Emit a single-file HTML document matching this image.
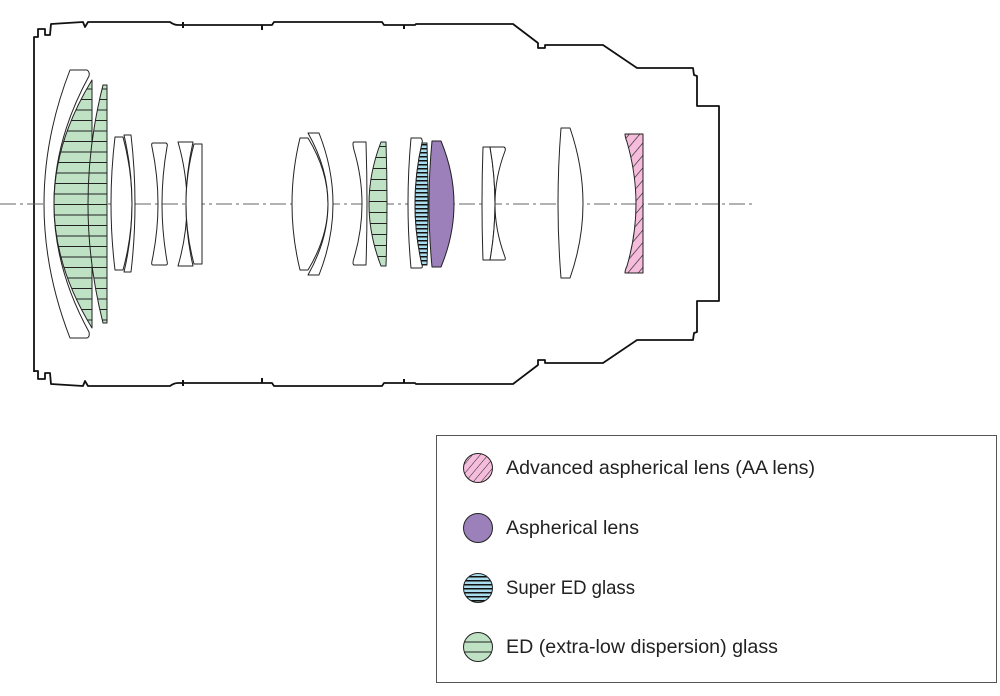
<!DOCTYPE html>
<html><head><meta charset="utf-8"><style>
html,body{margin:0;padding:0;background:#fff;}
svg{display:block}
text{font-family:"Liberation Sans",sans-serif;fill:#222}
</style></head><body>
<svg width="1000" height="696" viewBox="0 0 1000 696" xmlns="http://www.w3.org/2000/svg">
<defs>
<pattern id="gr" patternUnits="userSpaceOnUse" width="20" height="10.5" y="204"><rect width="20" height="10.5" fill="#bfe2c4"/><line x1="0" y1="0.5" x2="20" y2="0.5" stroke="#222" stroke-width="1"/></pattern>
<pattern id="bl" patternUnits="userSpaceOnUse" width="20" height="4"><rect width="20" height="4" fill="#a9dcec"/><line x1="0" y1="0.7" x2="20" y2="0.7" stroke="#111" stroke-width="1.5"/></pattern>
<pattern id="pk" patternUnits="userSpaceOnUse" width="8" height="8" patternTransform="rotate(40)"><rect width="8" height="8" fill="#f6bcdc"/><line x1="0" y1="0" x2="0" y2="8" stroke="#222" stroke-width="1.3"/></pattern>
<pattern id="pk2" patternUnits="userSpaceOnUse" width="6" height="6" patternTransform="rotate(40)"><rect width="6" height="6" fill="#f6bcdc"/><line x1="0" y1="0" x2="0" y2="6" stroke="#222" stroke-width="1"/></pattern>
<pattern id="gr2" patternUnits="userSpaceOnUse" width="40" height="11" y="3"><rect width="40" height="11" fill="#bfe2c4"/><line x1="0" y1="0.5" x2="40" y2="0.5" stroke="#222" stroke-width="1"/></pattern>
<pattern id="bl2" patternUnits="userSpaceOnUse" width="40" height="4"><rect width="40" height="4" fill="#a9dcec"/><line x1="0" y1="0.7" x2="40" y2="0.7" stroke="#111" stroke-width="1.6"/></pattern>
</defs>

<!-- barrel -->
<g fill="none" stroke="#111" stroke-width="1.8" stroke-linejoin="round">
<path d="M34,372 L34,37 L38,37 L38,29 L45,29 L45,35 L50,35 L51,24 L83,22 L85,27 L88,22 L170,22 Q174,25 178,25 L272,25 L274,22 L382,22 L384,25 L415,25 L416,24 L513,24 L538,43 L538,48 L545,48 L545,45 L603,45 L637,68 L693,68 L694,75 L697,76 L697,106 L719,106 L719,301 L697,301 L697,332 L694,333 L693,340 L637,340 L603,363 L545,363 L545,360 L538,360 L538,365 L513,384 L416,384 L415,383 L384,383 L382,386 L274,386 L272,383 L178,383 Q174,383 170,386 L88,386 L85,381 L83,386 L51,384 L50,373 L45,373 L45,379 L38,379 L38,371 L34,371"/>
</g>
<g stroke="#111" stroke-width="2">
<line x1="183" y1="22" x2="183" y2="28"/><line x1="262" y1="25" x2="262" y2="30"/><line x1="404" y1="25" x2="404" y2="29"/>
<line x1="183" y1="386" x2="183" y2="380"/><line x1="262" y1="383" x2="262" y2="378"/><line x1="404" y1="383" x2="404" y2="379"/>
</g>

<!-- axis -->
<line x1="0" y1="204" x2="752" y2="204" stroke="#666" stroke-width="1" stroke-dasharray="16,4,3,4"/>

<g stroke="#222" stroke-width="1" stroke-linejoin="round">
<path d="M70,70 L87,70 Q90,72 89,76 Q19,204 89,332 Q90,337 87,338 L70,338 Q18,204 70,70 Z" fill="#fff"/>
<path d="M92,80 L92,328 Q16,204 92,80 Z" fill="url(#gr)"/>
<path d="M103,85 L107,85 L107,323 L103,323 Q73,204 103,85 Z" fill="url(#gr)"/>
<path d="M115,137 L123,137 Q141,204 123,270 L115,270 Q107,204 115,137 Z" fill="#fff"/>
<path d="M124,135 L131,135 Q139,204 131,272 L124,272 Q140,204 124,135 Z" fill="#fff"/>
<path d="M153,143 L166,143 Q168,144 167,147 Q157,204 167,261 Q168,265 166,265 L153,265 Q151,265 152,261 Q164,204 152,147 Q151,143 153,143 Z" fill="#fff"/>
<path d="M178,142 L193,142 Q179,204 193,266 L178,266 Q196,204 178,142 Z" fill="#fff"/>
<path d="M194,144 L202,144 L202,264 L194,264 Q178,204 194,144 Z" fill="#fff"/>
<path d="M300,138 L308,138 Q348,204 308,270 L300,270 Q284,204 300,138 Z" fill="#fff"/>
<path d="M308,133 L319,133 Q347,204 319,275 L308,275 Q348,204 308,133 Z" fill="#fff"/>
<path d="M354,142 L366,142 Q368,204 366,265 L354,265 Q352,264 354,258 Q370,204 354,150 Q352,142 354,142 Z" fill="#fff"/>
<path d="M381,142 L386,142 Q388,204 386,266 L381,266 Q357,204 381,142 Z" fill="url(#gr2)"/>
<path d="M411,138 L421,138 Q423,140 422,143 Q408,204 422,265 Q423,268 421,268 L411,268 Q405,204 411,138 Z" fill="#fff"/>
<path d="M422,143 L427,143 Q429,204 427,265 L422,265 Q408,204 422,143 Z" fill="url(#bl)"/>
<path d="M432,141 L441,141 Q467,204 441,267 L432,267 Q426,204 432,141 Z" fill="#9b80ba"/>
<path d="M483,147 L490,147 Q500,204 490,260 L483,260 Q481,204 483,147 Z" fill="#fff"/>
<path d="M490,147 L504,147 Q506,148 505,151 Q485,204 505,257 Q506,260 504,260 L490,260 Q500,204 490,147 Z" fill="#fff"/>
<path d="M561,128 L570,128 Q596,204 570,278 L561,278 Q555,204 561,128 Z" fill="#fff"/>
<path d="M625,134 L643,134 L643,273 L625,273 Q625,270 627,266 Q645,204 627,142 Q625,137 625,134 Z" fill="url(#pk)"/>
</g>

<!-- legend -->
<rect x="436.5" y="435.5" width="560" height="247" fill="none" stroke="#555" stroke-width="1"/>
<g stroke="#222" stroke-width="1">
<circle cx="478" cy="468" r="14.5" fill="url(#pk2)"/>
<circle cx="478" cy="528" r="14.5" fill="#9b80ba"/>
<circle cx="478" cy="588" r="14.5" fill="url(#bl2)"/>
<circle cx="478" cy="647" r="14.5" fill="#bfe2c4"/>
<line x1="464" y1="642" x2="492" y2="642"/><line x1="464" y1="652" x2="492" y2="652"/>
</g>
<g font-size="19.5">
<text x="506" y="474" textLength="309" lengthAdjust="spacingAndGlyphs">Advanced aspherical lens (AA lens)</text>
<text x="506" y="534" textLength="133" lengthAdjust="spacingAndGlyphs">Aspherical lens</text>
<text x="506" y="594" textLength="129" lengthAdjust="spacingAndGlyphs">Super ED glass</text>
<text x="506" y="653" textLength="272" lengthAdjust="spacingAndGlyphs">ED (extra-low dispersion) glass</text>
</g>
</svg>
</body></html>
